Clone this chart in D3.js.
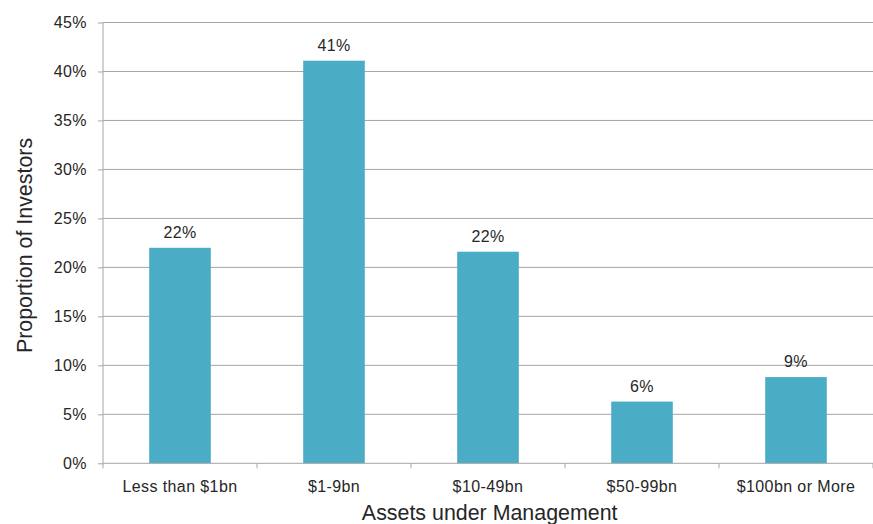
<!DOCTYPE html>
<html>
<head>
<meta charset="utf-8">
<script src="https://cdn.jsdelivr.net/npm/d3@7"></script>
<style>
  body { margin: 0; background: #fff; }
  text { font-family: "Liberation Sans", Arial, sans-serif; }
</style>
</head>
<body>
<div id="chart"></div>
<script>
// chart data
var categories = ["Less than $1bn", "$1-9bn", "$10-49bn", "$50-99bn", "$100bn or More"];
var values = [22.0, 41.1, 21.6, 6.3, 8.8];
var yTicks = [0, 5, 10, 15, 20, 25, 30, 35, 40, 45];

var svgWidth = 873;
var svgHeight = 524;
var margin = { top: 22.5, right: 0, bottom: 60.7, left: 103 };
var width = svgWidth - margin.left - margin.right;
var height = svgHeight - margin.top - margin.bottom;

var svg = d3.select("#chart")
    .append("svg")
    .attr("width", svgWidth)
    .attr("height", svgHeight);

var chartGroup = svg.append("g")
    .attr("transform", `translate(${margin.left}, ${margin.top})`);

var data = categories.map(function(c, i) { return { cat: c, val: values[i] }; });

var xScale = d3.scaleBand()
    .domain(categories)
    .range([0, width])
    .paddingInner(0.6)
    .paddingOuter(0.3);

var yScale = d3.scaleLinear()
    .domain([0, 45])
    .range([height, 0]);

// gridlines
chartGroup.selectAll(".grid")
    .data(yTicks.slice(1))
    .enter()
    .append("line")
    .attr("x1", 0)
    .attr("x2", width)
    .attr("y1", d => yScale(d))
    .attr("y2", d => yScale(d))
    .attr("stroke", "#a6a6a6")
    .attr("stroke-width", 1);

// bars
chartGroup.selectAll("rect")
    .data(data)
    .enter()
    .append("rect")
    .attr("x", d => xScale(d.cat))
    .attr("y", d => yScale(d.val))
    .attr("width", xScale.bandwidth())
    .attr("height", d => height - yScale(d.val))
    .attr("fill", "#4bacc6");

// value labels
chartGroup.selectAll(".val")
    .data(data)
    .enter()
    .append("text")
    .attr("x", d => xScale(d.cat) + xScale.bandwidth() / 2)
    .attr("y", d => yScale(d.val) - 10)
    .attr("text-anchor", "middle")
    .attr("font-size", "16px")
    .attr("letter-spacing", "0.4px")
    .attr("fill", "#262626")
    .text(d => Math.round(d.val) + "%");

// y axis
var yAxis = d3.axisLeft(yScale)
    .tickValues(yTicks)
    .tickSize(5)
    .tickFormat(d => d + "%");

var yG = chartGroup.append("g").call(yAxis);
yG.select(".domain").attr("stroke", "#a6a6a6").attr("d", `M0,0V${height}`);
yG.selectAll(".tick line").attr("stroke", "#a6a6a6");
yG.selectAll(".tick text")
    .attr("x", -16)
    .attr("font-size", "16px")
    .attr("letter-spacing", "0.4px")
    .attr("fill", "#262626");

// x axis with ticks at band boundaries
var xG = chartGroup.append("g")
    .attr("transform", `translate(0, ${height})`);
xG.append("line")
    .attr("x1", 0).attr("x2", width)
    .attr("stroke", "#a6a6a6");
var bounds = categories.map(c => xScale(c) - xScale.step() * xScale.paddingInner() / 2);
bounds.push(width);
xG.selectAll(".xtick")
    .data(bounds)
    .enter()
    .append("line")
    .attr("x1", d => d).attr("x2", d => d)
    .attr("y1", 0).attr("y2", 5)
    .attr("stroke", "#a6a6a6");
xG.selectAll(".xlab")
    .data(categories)
    .enter()
    .append("text")
    .attr("x", d => xScale(d) + xScale.bandwidth() / 2)
    .attr("y", 29)
    .attr("text-anchor", "middle")
    .attr("font-size", "16px")
    .attr("letter-spacing", "0.4px")
    .attr("fill", "#262626")
    .text(d => d);

// axis titles
svg.append("text")
    .attr("x", 489.7)
    .attr("y", 520)
    .attr("text-anchor", "middle")
    .attr("font-size", "21.4px")
    .attr("fill", "#262626")
    .text("Assets under Management");

svg.append("text")
    .attr("transform", "translate(31.5, 245.5) rotate(-90)")
    .attr("text-anchor", "middle")
    .attr("font-size", "21.4px")
    .attr("fill", "#262626")
    .text("Proportion of Investors");
</script>
</body>
</html>
